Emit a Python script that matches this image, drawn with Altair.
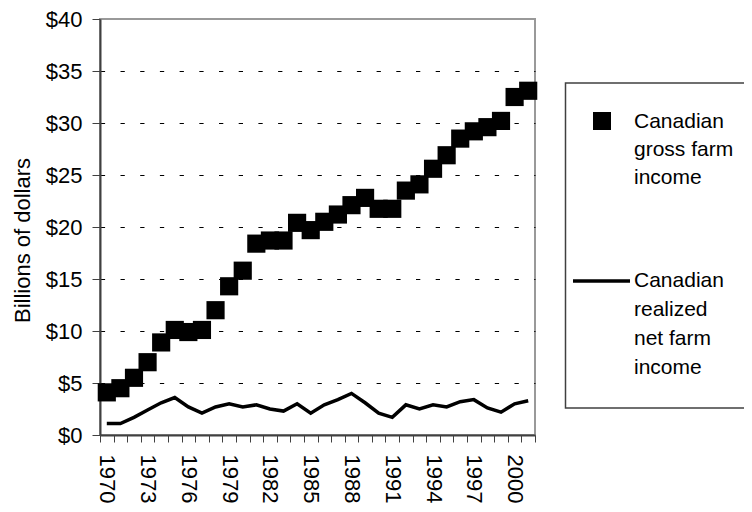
import altair as alt
import pandas as pd

years = list(range(1970, 2002))
gross = [4.1, 4.5, 5.5, 7.0, 8.9, 10.1, 9.9, 10.1, 12.0, 14.3, 15.8, 18.4, 18.7, 18.7,
         20.4, 19.7, 20.5, 21.2, 22.1, 22.8, 21.75, 21.75, 23.5, 24.1, 25.6, 26.9,
         28.5, 29.2, 29.6, 30.2, 32.5, 33.1]
net = [1.1, 1.1, 1.7, 2.4, 3.1, 3.6, 2.7, 2.1, 2.7, 3.0, 2.7, 2.9, 2.5, 2.3, 3.0, 2.1,
       2.9, 3.4, 4.0, 3.1, 2.1, 1.7, 2.9, 2.5, 2.9, 2.7, 3.2, 3.4, 2.6, 2.2, 3.0, 3.3]
y_ticks = list(range(0, 41, 5))
legend_gross = ["Canadian", "gross farm", "income"]
legend_net = ["Canadian", "realized", "net farm", "income"]

FONT = "Liberation Sans"

df = pd.DataFrame({"year": years, "gross": gross, "net": net})

x_enc = alt.X(
    "year:O",
    scale=alt.Scale(paddingInner=0, paddingOuter=0),
    axis=alt.Axis(
        title=None,
        labelAngle=90,
        labelExpr="(datum.value - 1970) % 3 == 0 ? datum.value : ''",
        labelOverlap=False,
        tickBand="extent",
        tickSize=7,
        tickWidth=1,
        labelPadding=12,
        grid=False,
    ),
)

y_axis = alt.Axis(
    values=y_ticks,
    labelExpr="'$' + datum.value",
    title="Billions of dollars",
    titleAngle=-90,
    titleX=-78,
    titleY=221,
    titleAlign="center",
    titleBaseline="middle",
    titleFontWeight="normal",
    titleFontSize=22,
    titleFont=FONT,
    titleColor="black",
    tickSize=8,
    tickWidth=1,
    labelPadding=10,
    grid=True,
    gridColor="black",
    gridWidth=1,
    gridDash=[4.3, 15.4],
    gridDashOffset=19.4,
    gridOpacity={"condition": {"test": "datum.value >= 40 || datum.value <= 0", "value": 0}, "value": 1},
)
y_scale = alt.Scale(domain=[0, 40], nice=False)

base = alt.Chart(df)
squares = base.mark_square(size=330, color="black", opacity=1).encode(
    x=x_enc, y=alt.Y("gross:Q", scale=y_scale, axis=y_axis)
)
line = base.mark_line(color="black", strokeWidth=3.5).encode(
    x=x_enc, y=alt.Y("net:Q", scale=y_scale, axis=y_axis)
)

# legend (manual, drawn outside plot area)
leg_df = pd.DataFrame({"k": [0]})
leg = alt.Chart(leg_df)
box = leg.mark_rect(fill="white", stroke="#404040", strokeWidth=1.5).encode(
    x=alt.value(465.5), x2=alt.value(720), y=alt.value(64), y2=alt.value(389)
)
sym1 = leg.mark_point(shape="square", size=324, filled=True, color="black", opacity=1).encode(
    x=alt.value(502), y=alt.value(102)
)
txt1 = leg.mark_text(text=legend_gross, align="left", baseline="alphabetic", font=FONT,
                     fontSize=21, lineHeight=28, color="black").encode(
    x=alt.value(534), y=alt.value(109)
)
sym2 = leg.mark_rule(color="black", strokeWidth=3.5).encode(
    x=alt.value(473), x2=alt.value(530), y=alt.value(262)
)
txt2 = leg.mark_text(text=legend_net, align="left", baseline="alphabetic", font=FONT,
                     fontSize=21, lineHeight=29, color="black").encode(
    x=alt.value(534), y=alt.value(268)
)

chart = alt.layer(squares, line, box, sym1, txt1, sym2, txt2).properties(
    width=435,
    height=416,
    padding={"left": 92, "top": 11, "right": 209, "bottom": 69},
    autosize=alt.AutoSizeParams(type="none"),
    background="white",
).configure_view(
    stroke="#999999", strokeWidth=2
).configure_axis(
    domainColor="#404040",
    domainWidth=2,
    tickColor="#404040",
    labelFont=FONT,
    labelFontSize=22,
    labelColor="black",
)

chart.save("out.html", embed_options={"renderer": "svg", "actions": False})
